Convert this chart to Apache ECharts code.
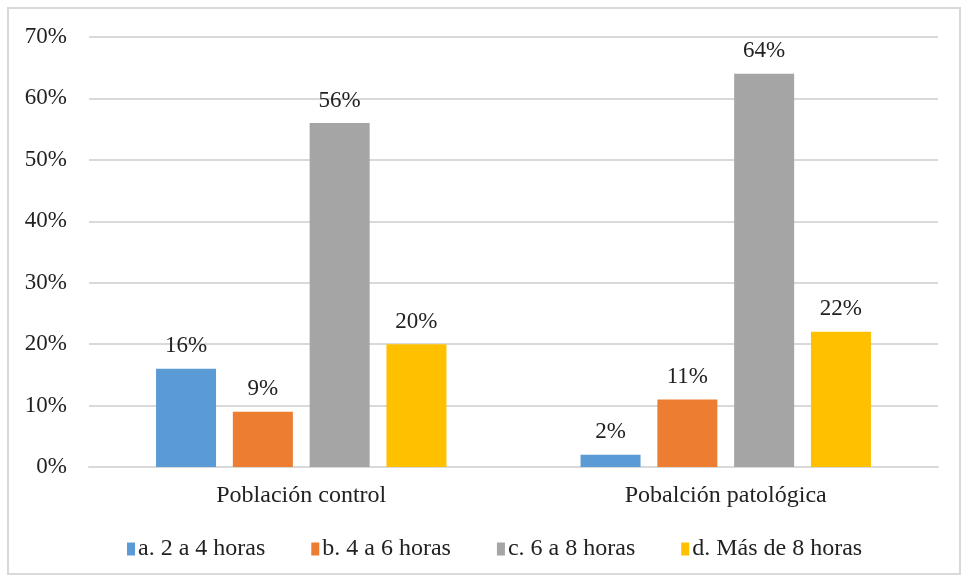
<!DOCTYPE html>
<html>
<head>
<meta charset="utf-8">
<script src="https://cdn.jsdelivr.net/npm/echarts@6/dist/echarts.min.js"></script>
<style>
    html, body { margin: 0; padding: 0; background: #fff; }
    #wrap { position: absolute; left: 7px; top: 7px; width: 954px; height: 568px; border: 2px solid #d9d9d9; box-sizing: border-box; }
    #chart { position: absolute; left: 0; top: 0; width: 963px; height: 577px; }
</style>
</head>
<body>
<div id="wrap"></div>
<div id="chart"></div>
<script>
    // categorias y series
    let categories = ['Población control', 'Pobalción patológica']
    let seriesNames = ['a. 2 a 4 horas', 'b. 4 a 6 horas', 'c. 6 a 8 horas', 'd. Más de 8 horas']
    let valuesA = [16, 2]
    let valuesB = [9, 11]
    let valuesC = [56, 64]
    let valuesD = [20, 22]
    let colors = ['#5b9bd5', '#ed7d31', '#a5a5a5', '#ffc000']

    let font = 'Liberation Serif'
    let fs = 23
    let allValues = [valuesA, valuesB, valuesC, valuesD]

    let chart = echarts.init(document.getElementById('chart'))
    let option = {
        animation: false,
        textStyle: { fontFamily: font },
        grid: { left: 89, right: 25, top: 37, bottom: 110, containLabel: false },
        legend: {
            top: 532,
            left: 122,
            itemWidth: 8,
            itemHeight: 13,
            itemGap: 46,
            icon: 'rect',
            textStyle: { fontFamily: font, fontSize: 24, color: '#222', padding: [0, 0, 0, -2] },
            data: seriesNames
        },
        xAxis: {
            type: 'category',
            data: categories,
            axisLine: { lineStyle: { color: '#d9d9d9', width: 2 } },
            axisTick: { show: false },
            axisLabel: { fontFamily: font, fontSize: 24, color: '#222', margin: 17 }
        },
        yAxis: {
            type: 'value',
            min: 0,
            max: 70,
            interval: 10,
            axisLine: { show: false },
            axisTick: { show: false },
            splitLine: { lineStyle: { color: '#d9d9d9', width: 2 } },
            axisLabel: { fontFamily: font, fontSize: fs, color: '#222', margin: 22, formatter: '{value}%' }
        },
        series: seriesNames.map((name, i) => ({
            name: name,
            type: 'bar',
            data: allValues[i],
            barWidth: 60,
            barGap: '28%',
            itemStyle: { color: colors[i] },
            label: {
                show: true,
                position: 'top',
                distance: 11,
                fontFamily: font,
                fontSize: fs,
                color: '#222',
                formatter: '{c}%'
            }
        }))
    }
    chart.setOption(option)
</script>
</body>
</html>
